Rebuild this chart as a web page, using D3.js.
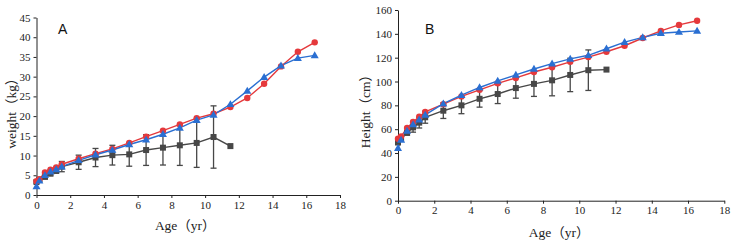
<!DOCTYPE html>
<html>
<head>
<meta charset="utf-8">
<script src="https://cdn.jsdelivr.net/npm/d3@7"></script>
<style>
  body { margin: 0; background: #fff; }
  svg { display: block; }
  .tick text { font-family: "Liberation Serif", "DejaVu Serif", serif; font-size: 11px; fill: #222; }
  .axis path, .axis line { stroke: #222; }
</style>
</head>
<body>
<svg id="chart" width="734" height="245"></svg>
<script>
// ages (yr) shared by all series
const ages = [0, 0.17, 0.5, 0.83, 1.17, 1.5, 2.5, 3.5, 4.5, 5.5, 6.5, 7.5, 8.5, 9.5, 10.5, 11.5, 12.5, 13.5, 14.5, 15.5, 16.5];

// panel A: weight (kg)
const weightRed  = [3.5, 4.0, 5.7, 6.4, 7.0, 7.8, 9.2, 10.5, 11.7, 13.2, 14.8, 16.3, 17.9, 19.5, 20.6, 22.3, 24.6, 28.2, 32.6, 36.3, 38.7];
const weightBlue = [2.2, 3.6, 5.0, 5.9, 6.5, 7.2, 8.8, 10.2, 11.4, 12.8, 14.0, 15.4, 17.0, 19.0, 20.3, 23.0, 26.4, 29.9, 32.8, 34.7, 35.4];
const weightGray = [3.3, 3.9, 4.6, 5.6, 6.3, 7.2, 8.3, 9.5, 10.1, 10.3, 11.4, 12.0, 12.6, 13.2, 14.7, 12.4];
const weightSd   = [0.3, 0.4, 0.5, 0.8, 0.8, 1.3, 1.8, 2.3, 2.5, 3.0, 3.9, 4.4, 5.1, 6.2, 7.9, 0];

// panel B: height (cm)
const heightRed  = [52, 54, 61, 66, 70.5, 74.5, 81, 87.5, 93, 98.5, 103, 108, 112, 116.5, 120.5, 125, 130, 136.5, 142.5, 147.5, 151];
const heightBlue = [44, 51, 58.5, 64, 68, 72, 81.5, 88.5, 95, 100.5, 105.5, 110.5, 115, 119, 122, 127.5, 133, 137, 140.5, 141.5, 142.5];
const heightGray = [49, 52, 57, 61.5, 65.5, 70, 75.5, 80, 85.5, 89.5, 94.5, 98, 101, 105.5, 109.5, 110];
const heightSd   = [2, 2, 2, 4, 4.5, 5, 6.5, 7, 7, 8, 8.5, 10.5, 13, 14, 17, 0];

const xTicks = d3.range(0, 19, 2);

const colors = { red: "#e5393c", blue: "#2a6fd2", gray: "#474747" };

const svg = d3.select("#chart");

function panel(opt) {
  const x = d3.scaleLinear().domain([0, 18]).range(opt.xr);
  const y = d3.scaleLinear().domain([0, opt.yMax]).range(opt.yr);
  const g = svg.append("g");

  g.append("g").attr("class", "axis")
    .attr("transform", `translate(0,${opt.yr[0]})`)
    .call(d3.axisBottom(x).tickValues(xTicks).tickSize(3).tickSizeOuter(0).tickPadding(3));
  g.append("g").attr("class", "axis")
    .attr("transform", `translate(${opt.xr[0]},0)`)
    .call(d3.axisLeft(y).tickValues(opt.yTicks).tickSize(3).tickSizeOuter(0).tickPadding(3));

  const line = d3.line().x(d => x(d[0])).y(d => y(d[1]));

  // gray series with error bars
  const gray = opt.gray.map((v, i) => [ages[i], v, opt.sd[i]]);
  const eb = g.append("g").attr("stroke", colors.gray).attr("stroke-width", 1.3);
  gray.filter(d => d[2] > 0).forEach(d => {
    eb.append("line").attr("x1", x(d[0])).attr("x2", x(d[0]))
      .attr("y1", y(d[1] - d[2])).attr("y2", y(d[1] + d[2]));
    [d[1] - d[2], d[1] + d[2]].forEach(v => {
      eb.append("line").attr("x1", x(d[0]) - 3).attr("x2", x(d[0]) + 3)
        .attr("y1", y(v)).attr("y2", y(v));
    });
  });

  const red = opt.red.map((v, i) => [ages[i], v]);
  const blue = opt.blue.map((v, i) => [ages[i], v]);

  g.append("path").datum(gray).attr("d", line)
    .attr("fill", "none").attr("stroke", colors.gray).attr("stroke-width", 1.4);
  g.append("path").datum(red).attr("d", line)
    .attr("fill", "none").attr("stroke", colors.red).attr("stroke-width", 1.4);
  g.append("path").datum(blue).attr("d", line)
    .attr("fill", "none").attr("stroke", colors.blue).attr("stroke-width", 1.4);

  g.selectAll(null).data(gray).enter().append("rect")
    .attr("x", d => x(d[0]) - 3).attr("y", d => y(d[1]) - 3)
    .attr("width", 6).attr("height", 6).attr("fill", colors.gray);
  g.selectAll(null).data(red).enter().append("circle")
    .attr("cx", d => x(d[0])).attr("cy", d => y(d[1])).attr("r", 3.2)
    .attr("fill", colors.red);
  const tri = d3.symbol().type(d3.symbolTriangle).size(28);
  g.selectAll(null).data(blue).enter().append("path")
    .attr("d", tri)
    .attr("transform", d => `translate(${x(d[0])},${y(d[1]) + 0.5})`)
    .attr("fill", colors.blue);

  // panel letter
  g.append("text").attr("x", opt.letterX).attr("y", 34)
    .attr("font-family", "Liberation Sans, Arial, sans-serif")
    .attr("font-size", 14).attr("fill", "#111").text(opt.letter);

  // axis titles
  g.append("text")
    .attr("x", (opt.xr[0] + opt.xr[1]) / 2 + opt.xTitleDx).attr("y", opt.xTitleY)
    .attr("text-anchor", "middle")
    .attr("font-family", "Liberation Serif, 'Noto Sans CJK SC', serif")
    .attr("font-size", 13.5).attr("fill", "#222").text("Age（yr）");
  g.append("text")
    .attr("transform", `translate(${opt.yTitleX},${opt.yTitleY}) rotate(-90)`)
    .attr("text-anchor", "middle")
    .attr("font-family", "Liberation Serif, 'Noto Sans CJK SC', serif")
    .attr("font-size", 13.5).attr("fill", "#222").text(opt.yTitle);
}

panel({
  xr: [36.5, 340], yr: [195, 17.5], yMax: 45, yTicks: d3.range(0, 46, 5),
  red: weightRed, blue: weightBlue, gray: weightGray, sd: weightSd,
  letter: "A", letterX: 58, xTitleDx: -3, xTitleY: 230,
  yTitle: "weight（kg）", yTitleX: 16, yTitleY: 110
});

panel({
  xr: [398, 724.3], yr: [200.7, 10], yMax: 160, yTicks: d3.range(0, 161, 20),
  red: heightRed, blue: heightBlue, gray: heightGray, sd: heightSd,
  letter: "B", letterX: 425, xTitleDx: -2, xTitleY: 237,
  yTitle: "Height（cm）", yTitleX: 370, yTitleY: 108
});
</script>
</body>
</html>
